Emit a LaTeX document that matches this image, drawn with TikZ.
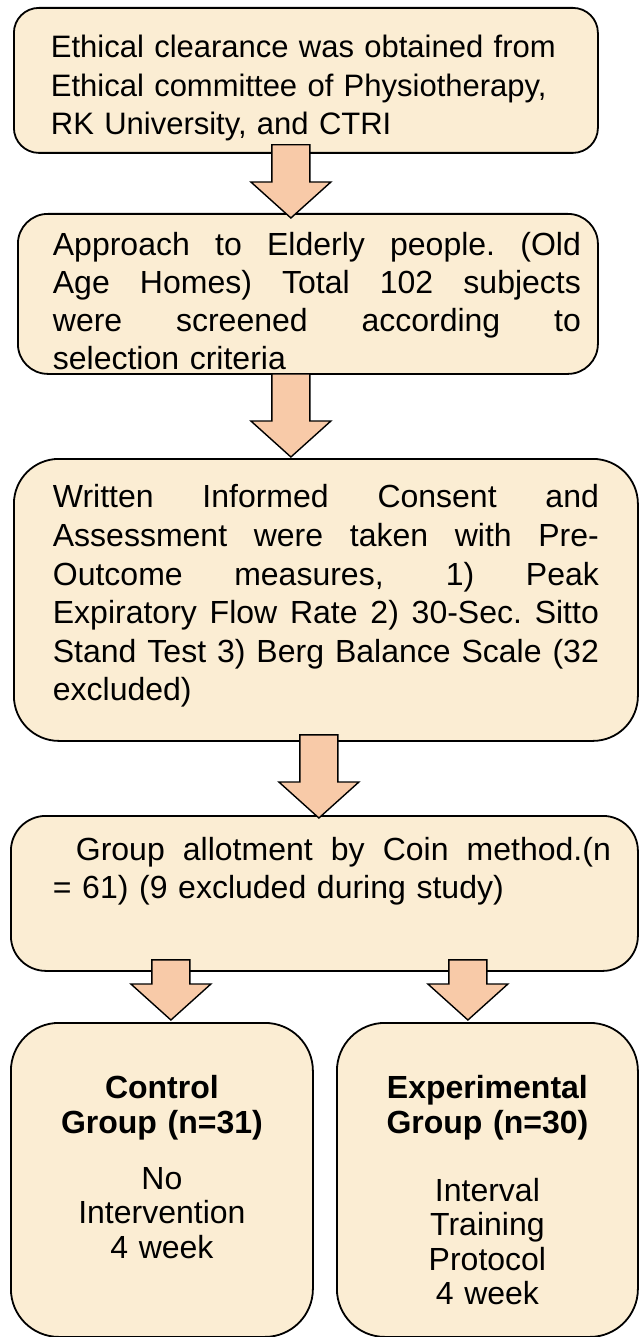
\documentclass[tikz,border=0pt]{standalone}
\usepackage{fontspec}
\setmainfont{Liberation Sans}
\usetikzlibrary{calc,positioning}

\definecolor{paper}{HTML}{FBEDD3}
\definecolor{peach}{HTML}{F8CAA8}

% one justified line of a box: width, text
\newcommand{\spread}[2]{{\spaceskip=\fontdimen2\font plus 1fil\relax
  \xspaceskip=\spaceskip\makebox[#1][s]{#2}}}

% block arrow from the start point (top of the shaft) down to the tip
\newcommand{\fatarrow}[2]{%
  \draw[fatarrow] let \p1=(#1), \p2=(#2) in
    (\x1-19pt,\y1) -- (\x1+19pt,\y1) -- (\x1+19pt,\y2+36pt) -- (\x1+40pt,\y2+36pt)
    -- (\x1,\y2) -- (\x1-40pt,\y2+36pt) -- (\x1-19pt,\y2+36pt) -- cycle;}

\begin{document}
\begin{tikzpicture}[
  x=1pt, y=-1pt,
  stage/.style={draw=black, line width=1.8pt, fill=paper, anchor=north west, inner sep=0pt, align=left},
  groupbox/.style={stage, rounded corners=48pt, align=center, text width=280pt,
    minimum height=314pt, text height=76pt, text depth=238pt, font=\fontsize{32}{34.5}\selectfont},
  fatarrow/.style={draw=black, line width=1.4pt, fill=peach, line join=miter}
]
\useasboundingbox (0,0) rectangle (639,1337);

\node[stage, rounded corners=25pt, minimum width=584pt, minimum height=145pt,
      text height=50pt, text depth=95pt, text width=510pt,
      font=\fontsize{31}{38.5}\selectfont] (ethics) at (13,7)
  {Ethical clearance was obtained from\\Ethical committee of Physiotherapy,\\RK University, and CTRI};

\node[stage, rounded corners=30pt, minimum width=580pt, minimum height=160pt,
      text height=42pt, text depth=118pt, text width=510pt,
      font=\fontsize{32}{38}\selectfont] (approach) at (17,213)
  {\spread{528pt}{Approach to Elderly people. (Old}\\\spread{528pt}{Age Homes) Total 102 subjects}\\
   \spread{528pt}{were screened according to}\\selection criteria};

\node[stage, rounded corners=45pt, minimum width=624pt, minimum height=282pt,
      text height=49pt, text depth=233pt, text width=546pt,
      font=\fontsize{32}{38.6}\selectfont] (consent) at (13,458)
  {\spread{546pt}{Written Informed Consent and}\\\spread{546pt}{Assessment were taken with Pre-}\\
   \spread{546pt}{Outcome measures, 1) Peak}\\\spread{546pt}{Expiratory Flow Rate 2) 30-Sec. Sitto}\\
   \spread{546pt}{Stand Test 3) Berg Balance Scale (32}\\excluded)};

\node[stage, rounded corners=35pt, minimum width=627pt, minimum height=155pt,
      text height=45pt, text depth=110pt, text width=543pt,
      font=\fontsize{32}{38}\selectfont] (allot) at (10,815)
  {\hspace*{23pt}\spread{535pt}{Group allotment by Coin method.(n}\\= 61) (9 excluded during study)};

\node[groupbox, minimum width=302pt] (control) at (10,1022)
  {\textbf{Control}\\\textbf{Group (n=31)}\\[21.5pt]No\\Intervention\\4 week};

\node[groupbox, minimum width=301pt] (exper) at (336,1022)
  {\textbf{Experimental}\\\textbf{Group (n=30)}\\[33.5pt]Interval\\Training\\Protocol\\4 week};

\fatarrow{$(ethics.south)+(-15,-9)$}{$(approach.north)+(0,5)$}
\fatarrow{$(approach.south)+(-17,-1)$}{$(consent.north)+(0,-1)$}
\fatarrow{$(consent.south)+(-7,-7)$}{$(allot.north)+(0,3)$}
\fatarrow{$(allot.south -| control.north)+(9,-12)$}{$(control.north)+(0,-2)$}
\fatarrow{$(allot.south -| exper.north)+(-19.5,-12)$}{$(exper.north)+(0,-2)$}
\end{tikzpicture}
\end{document}
